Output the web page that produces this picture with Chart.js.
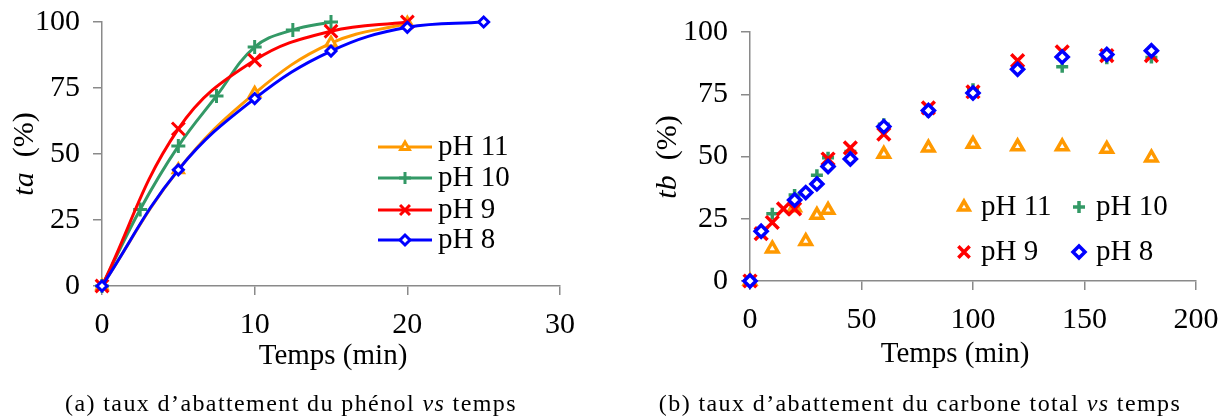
<!DOCTYPE html>
<html>
<head>
<meta charset="utf-8">
<script src="https://cdn.jsdelivr.net/npm/chart.js@4/dist/chart.umd.min.js"></script>
<style>
html, body { margin: 0; padding: 0; background: #fff; }
#wrap { position: relative; width: 1230px; height: 419px; }
.box { position: absolute; top: 0; width: 615px; height: 419px; }
</style>
</head>
<body>
<div id="wrap">
  <div class="box" style="left:0"><canvas id="chartA"></canvas></div>
  <div class="box" style="left:615px"><canvas id="chartB"></canvas></div>
</div>
<script>
// series names, colours and markers (same for both panels)
var seriesNames = ["pH 11", "pH 10", "pH 9", "pH 8"];
var seriesColors = ["#ff9900", "#339966", "#ff0000", "#0000ff"];
var seriesMarkers = ["triangle", "cross", "crossRot", "rectRot"];

// (a) taux d'abattement du phenol, ta (%) vs temps (min)
var timeA_pH11 = [0, 5, 10, 15, 20];
var taA_pH11 = [0, 44, 73, 92, 99.5];
var timeA_pH10 = [0, 2.5, 5, 7.5, 10, 12.5, 15];
var taA_pH10 = [0, 29, 53, 72, 90.5, 97, 100];
var timeA_pH9 = [0, 5, 10, 15, 20];
var taA_pH9 = [0, 59.5, 85.5, 96.5, 100];
var timeA_pH8 = [0, 5, 10, 15, 20, 25];
var taA_pH8 = [0, 44, 71, 89, 98, 100];

// (b) taux d'abattement du carbone total, tb (%) vs temps (min)
var timeB_pH11 = [0, 10, 20, 25, 30, 35, 60, 80, 100, 120, 140, 160, 180];
var tbB_pH11 = [0, 13, 29.5, 16, 26.5, 28.5, 51, 53.5, 55, 54, 54, 53, 49.5];
var timeB_pH10 = [0, 5, 10, 20, 30, 35, 45, 60, 80, 100, 140, 160, 180];
var tbB_pH10 = [0, 20, 27, 34.5, 42.5, 49.5, 52, 63, 68, 77, 86, 89.5, 89.8];
var timeB_pH9 = [0, 5, 10, 15, 20, 35, 45, 60, 80, 100, 120, 140, 160, 180];
var tbB_pH9 = [0, 19, 23.5, 29, 29, 49, 53.5, 59, 69.5, 76, 88.5, 92, 90.5, 90.5];
var timeB_pH8 = [0, 5, 20, 25, 30, 35, 45, 60, 80, 100, 120, 140, 160, 180];
var tbB_pH8 = [0, 20, 32.5, 35.5, 39, 46, 49, 62, 68.5, 75.5, 85, 90, 91, 92.5];

// axis ranges / tick steps
var yMax = 100, yStep = 25;
var xMaxA = 30, xStepA = 10;
var xMaxB = 200, xStepB = 50;

function points(xs, ys) {
  var out = [];
  for (var i = 0; i < xs.length; i++) out.push({ x: xs[i], y: ys[i] });
  return out;
}

var serif = "'Liberation Serif', 'Times New Roman', serif";
var axisGray = "#8a8a8a";

function drawMarker(ctx, style, r, bw, x, y, color) {
  ctx.save();
  ctx.strokeStyle = color;
  ctx.fillStyle = "#fff";
  ctx.lineWidth = bw;
  Chart.helpers.drawPoint(ctx, { pointStyle: style, radius: r, borderWidth: bw, rotation: 0 }, x, y);
  ctx.restore();
}

// draws text made of [text, italic] parts centred on (cx, cy)
function drawParts(ctx, parts, size, cx, cy, rot, spacing) {
  ctx.save();
  ctx.translate(cx, cy);
  ctx.rotate(rot);
  ctx.textBaseline = "middle";
  ctx.textAlign = "left";
  ctx.fillStyle = "#000";
  if (spacing) ctx.letterSpacing = spacing + "px";
  var total = 0, widths = [];
  parts.forEach(function (p) {
    ctx.font = (p[1] ? "italic " : "") + size + "px " + serif;
    var w = ctx.measureText(p[0]).width;
    widths.push(w);
    total += w;
  });
  var x = -total / 2;
  parts.forEach(function (p, i) {
    ctx.font = (p[1] ? "italic " : "") + size + "px " + serif;
    ctx.fillText(p[0], x, 0);
    x += widths[i];
  });
  ctx.restore();
}

var decorPlugin = {
  id: "decor",
  afterDraw: function (chart, args, o) {
    var ctx = chart.ctx;
    drawParts(ctx, o.yTitle.parts, 30, o.yTitle.x, o.yTitle.y, -Math.PI / 2);
    drawParts(ctx, [["Temps (min)", false]], 29, o.xTitle.x, o.xTitle.y, 0);
    drawParts(ctx, o.caption.parts, 24, o.caption.x, o.caption.y, 0, 1.4);
    // legend
    var lg = o.legend;
    chart.data.datasets.forEach(function (ds, i) {
      var it = lg.items[i];
      if (lg.line > 0) {
        ctx.save();
        ctx.strokeStyle = ds.borderColor;
        ctx.lineWidth = 3;
        ctx.beginPath();
        ctx.moveTo(it.x - lg.line, it.y);
        ctx.lineTo(it.x + lg.line, it.y);
        ctx.stroke();
        ctx.restore();
      }
      drawMarker(ctx, ds.pointStyle, lg.radii[i], ds.pointBorderWidth, it.x, it.y, ds.borderColor);
      ctx.save();
      ctx.fillStyle = "#000";
      ctx.font = "29px " + serif;
      ctx.textBaseline = "middle";
      ctx.textAlign = "left";
      ctx.fillText(ds.label, it.x + lg.textGap, it.y);
      ctx.restore();
    });
  }
};

function makeScales(xMax, xStep, yWidth, xHeight) {
  var tickFont = { family: serif, size: 30 };
  function noPad(s) { s.paddingTop = 0; s.paddingBottom = 0; s.paddingLeft = 0; s.paddingRight = 0; }
  return {
    x: {
      type: "linear", min: 0, max: xMax,
      ticks: { stepSize: xStep, color: "#000", font: tickFont, padding: 12 },
      grid: { drawOnChartArea: false, drawTicks: true, tickLength: 9, color: axisGray, lineWidth: 1.5 },
      border: { display: true, color: axisGray, width: 1.5 },
      afterFit: function (s) { s.height = xHeight; noPad(s); }
    },
    y: {
      type: "linear", min: 0, max: yMax,
      ticks: { stepSize: yStep, color: "#000", font: tickFont, padding: 13 },
      grid: { drawOnChartArea: false, drawTicks: true, tickLength: 9, color: axisGray, lineWidth: 1.5 },
      border: { display: true, color: axisGray, width: 1.5 },
      afterFit: function (s) { s.width = yWidth; noPad(s); }
    }
  };
}

// ---------- panel (a) ----------
var dataA = [points(timeA_pH11, taA_pH11), points(timeA_pH10, taA_pH10), points(timeA_pH9, taA_pH9), points(timeA_pH8, taA_pH8)];
var radiiA = [6, 7, 9, 5];
new Chart(document.getElementById("chartA"), {
  type: "line",
  data: {
    datasets: dataA.map(function (d, i) {
      return {
        label: seriesNames[i], data: d,
        borderColor: seriesColors[i], backgroundColor: "#fff",
        borderWidth: 3, tension: 0.4, fill: false,
        pointStyle: seriesMarkers[i], pointRadius: radiiA[i], pointBorderWidth: 3,
        pointBackgroundColor: "#fff", pointBorderColor: seriesColors[i],
        order: 4 - i, clip: false
      };
    })
  },
  options: {
    responsive: true, maintainAspectRatio: false, animation: false,
    layout: { padding: { top: 22, right: 55, left: 0, bottom: 0 } },
    scales: makeScales(xMaxA, xStepA, 102, 133),
    plugins: {
      legend: { display: false }, tooltip: { enabled: false },
      decor: {
        yTitle: { x: 25, y: 154, parts: [["ta", true], ["  (%)", false]] },
        xTitle: { x: 333, y: 356 },
        caption: { x: 291, y: 405, parts: [["(a) taux d\u2019abattement du ph\u00e9nol ", false], ["vs", true], [" temps", false]] },
        legend: { line: 27, textGap: 33, radii: [5, 6, 7, 5], items: [{ x: 405, y: 147 }, { x: 405, y: 178 }, { x: 405, y: 210 }, { x: 405, y: 240 }] }
      }
    }
  },
  plugins: [decorPlugin]
});

// ---------- panel (b) ----------
var dataB = [points(timeB_pH11, tbB_pH11), points(timeB_pH10, tbB_pH10), points(timeB_pH9, tbB_pH9), points(timeB_pH8, tbB_pH8)];
var radiiB = [6.5, 6, 9, 6];
new Chart(document.getElementById("chartB"), {
  type: "scatter",
  data: {
    datasets: dataB.map(function (d, i) {
      return {
        label: seriesNames[i], data: d, showLine: false,
        borderColor: seriesColors[i], backgroundColor: "#fff",
        pointStyle: seriesMarkers[i], pointRadius: radiiB[i], pointBorderWidth: 3.5,
        pointBackgroundColor: "#fff", pointBorderColor: seriesColors[i],
        order: 4 - i, clip: false
      };
    })
  },
  options: {
    responsive: true, maintainAspectRatio: false, animation: false,
    layout: { padding: { top: 32, right: 34, left: 0, bottom: 0 } },
    scales: makeScales(xMaxB, xStepB, 135, 138),
    plugins: {
      legend: { display: false }, tooltip: { enabled: false },
      decor: {
        yTitle: { x: 53, y: 157, parts: [["tb", true], ["  (%)", false]] },
        xTitle: { x: 340, y: 354 },
        caption: { x: 305, y: 405, parts: [["(b) taux d\u2019abattement du carbone total ", false], ["vs", true], [" temps", false]] },
        legend: { line: 0, textGap: 17, radii: [6, 6, 8, 6], items: [{ x: 349, y: 207 }, { x: 464, y: 207 }, { x: 349, y: 252 }, { x: 464, y: 252 }] }
      }
    }
  },
  plugins: [decorPlugin]
});
</script>
</body>
</html>
